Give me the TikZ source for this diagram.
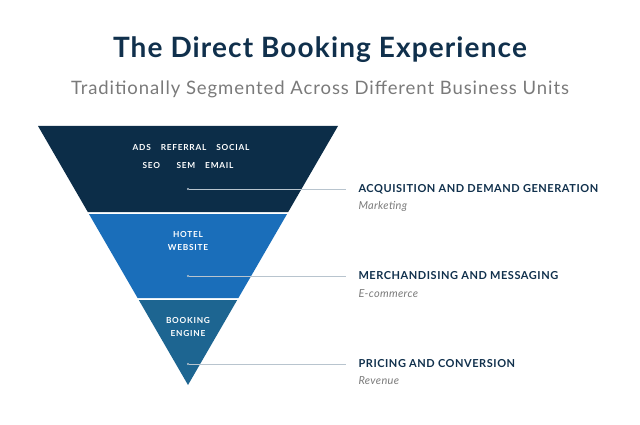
\documentclass[tikz,border=0pt]{standalone}
\usepackage{fontspec}
\setmainfont{Lato}
\definecolor{navy}{HTML}{0C2D48}
\definecolor{midblue}{HTML}{1A6EBA}
\definecolor{tealblue}{HTML}{1D6591}
\definecolor{titlec}{HTML}{10304C}
\definecolor{subc}{HTML}{7A7A7A}
\definecolor{leader}{HTML}{B8C4CE}
\begin{document}
\begin{tikzpicture}[x=1pt,y=-1pt,
  inner/.style={text=white,font=\bfseries\fontsize{8.3}{12.5}\selectfont\addfontfeature{LetterSpace=9},align=center},
  head/.style={anchor=west,text=titlec,font=\bfseries\fontsize{11}{12}\selectfont\addfontfeature{LetterSpace=5}},
  sub/.style={anchor=west,text=subc,font=\itshape\fontsize{11}{12}\selectfont\addfontfeature{LetterSpace=3}},
  lead/.style={draw=leader,line width=0.6pt},
  dot/.style={circle,fill=leader,inner sep=0pt,minimum size=2.2pt}]
\useasboundingbox (0,0) rectangle (640,425);
\node[text=titlec,font=\bfseries\fontsize{28}{30}\selectfont\addfontfeature{LetterSpace=4}] (title) at (320,50) {The Direct Booking Experience};
\node[text=subc,font=\fontsize{18.5}{20}\selectfont\addfontfeature{LetterSpace=5}] (subtitle) at (320,89) {Traditionally Segmented Across Different Business Units};
\fill[navy] (38,126) -- (338,126) -- (288.2,212) -- (87.8,212) -- cycle;
\fill[midblue] (88.95,214) -- (287.05,214) -- (238.4,298) -- (137.6,298) -- cycle;
\fill[tealblue] (138.8,300) -- (237.2,300) -- (188,385) -- cycle;
\node[inner] (t1) at (191,148) {ADS\hspace{1.2em}REFERRAL\hspace{1.2em}SOCIAL};
\node[inner] (t2) at (188,165) {SEO\hspace{2em}SEM\hspace{1.2em}EMAIL};
\node[inner] (t3) at (188,241) {HOTEL\\WEBSITE};
\node[inner] (t4) at (188,327) {BOOKING\\ENGINE};
\node[dot] (d1) at (188,189) {};
\node[dot] (d2) at (188,276) {};
\node[dot] (d3) at (188,364) {};
\coordinate (e1) at (346,189);
\coordinate (e2) at (346,276);
\coordinate (e3) at (346,364);
\draw[lead] (d1) -- (e1);
\draw[lead] (d2) -- (e2);
\draw[lead] (d3) -- (e3);
\node[head] (h1) at (355,189) {ACQUISITION AND DEMAND GENERATION};
\node[sub] (s1) at (355,206) {Marketing};
\node[head] (h2) at (355,276) {MERCHANDISING AND MESSAGING};
\node[sub] (s2) at (355,294) {E-commerce};
\node[head] (h3) at (355,364) {PRICING AND CONVERSION};
\node[sub] (s3) at (355,381) {Revenue};
\end{tikzpicture}
\end{document}
